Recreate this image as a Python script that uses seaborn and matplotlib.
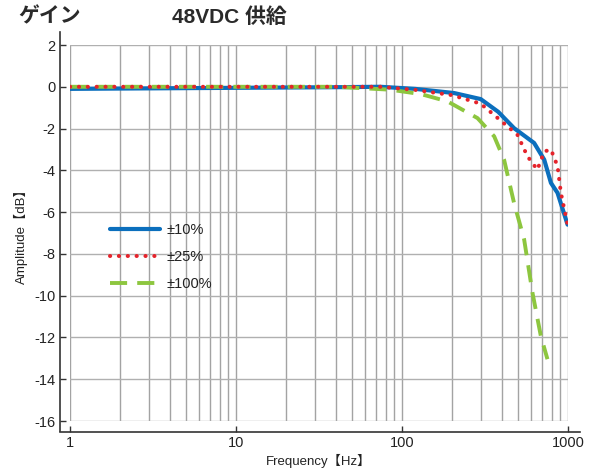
import matplotlib
matplotlib.use("Agg")
import matplotlib.pyplot as plt
from matplotlib.ticker import LogLocator, NullFormatter, FixedLocator
import numpy as np
import seaborn as sns

# values (frequency in Hz, amplitude in dB)
freq_10 = [1, 10, 40, 74, 120, 206, 298, 380, 473, 625, 719, 789, 865, 994]
amp_10 = [-0.1, -0.05, -0.02, 0.0, -0.1, -0.3, -0.59, -1.2, -1.98, -2.69, -3.49, -4.6, -5.08, -6.6]

freq_25 = [1, 10, 40, 74, 120, 200, 298, 384, 496, 570, 654, 719, 789, 865, 906, 994]
amp_25 = [0.0, 0.0, 0.0, 0.0, -0.15, -0.4, -0.81, -1.55, -2.3, -3.33, -3.97, -3.1, -3.0, -3.8, -5.08, -6.6]

freq_100 = [1, 10, 40, 85, 130, 188, 285, 359, 412, 473, 544, 611, 686, 752]
amp_100 = [0.0, 0.0, 0.0, -0.14, -0.35, -0.7, -1.5, -2.37, -3.49, -5.56, -7.3, -9.86, -11.93, -13.04]

labels = ["±10%", "±25%", "±100%"]
colors = ["#0b6fbd", "#e5232b", "#8dc63f"]
x_ticks = [1, 10, 100, 1000]
y_ticks = list(range(-16, 3, 2))

sns.set_style("white")
plt.rcParams["font.family"] = ["Liberation Sans", "Noto Sans CJK JP", "DejaVu Sans"]
plt.rcParams["axes.unicode_minus"] = False

fig = plt.figure(figsize=(5.9, 4.73), dpi=100)
ax = fig.add_axes([70 / 590, 1 - 421 / 473, 498 / 590, 376 / 473])

sns.lineplot(x=freq_10, y=amp_10, ax=ax, color=colors[0], lw=3.0,
             label=labels[0], zorder=3)
sns.lineplot(x=freq_25, y=amp_25, ax=ax, color=colors[1], lw=2.9,
             label=labels[1], zorder=5)
ax.lines[-1].set_linestyle((0, (0.05, 2.15)))
ax.lines[-1].set_dash_capstyle("round")
sns.lineplot(x=freq_100, y=amp_100, ax=ax, color=colors[2], lw=2.8,
             label=labels[2], zorder=4)
ax.lines[-1].set_linestyle((0, (4.4, 2.6)))

ax.set_xscale("log")
ax.set_xlim(1, 1000)
ax.set_ylim(-16, 2)
ax.xaxis.set_major_locator(FixedLocator(x_ticks))
ax.xaxis.set_minor_locator(LogLocator(base=10, subs=np.arange(2, 10)))
ax.xaxis.set_minor_formatter(NullFormatter())
ax.set_xticks(x_ticks, [str(v) for v in x_ticks])
ax.set_yticks(y_ticks)

ax.grid(True, which="both", axis="x", color="#a3a3a3", lw=1.0)
ax.grid(True, which="major", axis="y", color="#b0b0b0", lw=1.0)
ax.set_axisbelow(True)

ax.spines["top"].set_visible(False)
ax.spines["right"].set_visible(False)
ax.spines["left"].set_position(("outward", 7.2))
ax.spines["bottom"].set_position(("outward", 7.9))
ax.spines["left"].set_bounds(-16.5, 2.6)
ax.spines["bottom"].set_bounds(0.87, 1180)
for s in ["left", "bottom"]:
    ax.spines[s].set_color("#333333")
    ax.spines[s].set_linewidth(1.2)
ax.tick_params(axis="both", which="major", direction="in", length=4,
               width=1, color="#333333", labelsize=10.5, labelcolor="#222222",
               left=True, bottom=True)
ax.tick_params(axis="y", pad=3.5)
ax.tick_params(axis="x", pad=3)
ax.tick_params(axis="x", which="minor", length=0)

ax.set_xlabel("Frequency【Hz】", fontsize=9.5, color="#222222", labelpad=3)
ax.set_ylabel("Amplitude【dB】", fontsize=9.5, color="#222222", labelpad=4)

leg = ax.legend(loc="upper left", bbox_to_anchor=(0.08, 0.527), frameon=False,
                borderpad=0, borderaxespad=0,
                handlelength=3.45, handletextpad=0.45, labelspacing=0.9,
                fontsize=10.5)
for t in leg.get_texts():
    t.set_color("#222222")

fig.text(18 / 590, 1 - 17 / 473, "ゲイン", fontsize=15, fontweight="bold",
         color="#2a2a2a", va="center")
fig.text(172 / 590, 1 - 17 / 473, "48VDC 供給", fontsize=15, fontweight="bold",
         color="#2a2a2a", va="center")

fig.savefig("out.png", dpi=100)
